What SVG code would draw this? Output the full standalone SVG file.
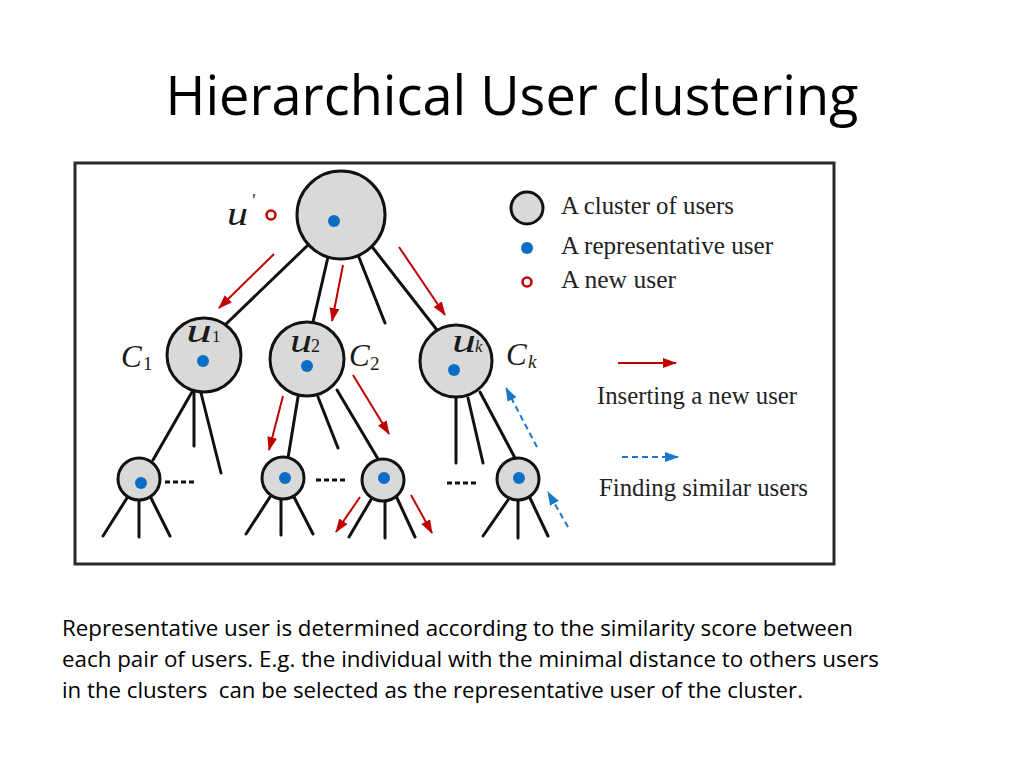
<svg xmlns="http://www.w3.org/2000/svg" width="1024" height="768" viewBox="0 0 1024 768">
<defs>
<marker id="ar" markerUnits="userSpaceOnUse" markerWidth="14" markerHeight="12" refX="13" refY="5" orient="auto"><path d="M0,0 L14,5 L0,10 Z" fill="#c00000"/></marker>
<marker id="ab" markerUnits="userSpaceOnUse" markerWidth="14" markerHeight="12" refX="13" refY="5" orient="auto"><path d="M0,0 L14,5 L0,10 Z" fill="#1a78c8"/></marker>
<style>
.e{stroke:#111;stroke-width:3;fill:none;stroke-linecap:round}
.dash{stroke:#111;stroke-width:3;stroke-dasharray:5 3}
.red{stroke:#c00000;stroke-width:2;fill:none;marker-end:url(#ar)}
.blue{stroke:#1a78c8;stroke-width:2;fill:none;stroke-dasharray:6 4;marker-end:url(#ab)}
.n{fill:#d9d9d9;stroke:#111;stroke-width:3}
.dot{fill:#0a6fc4}
.lbl{font-family:"Liberation Serif",serif;font-style:italic;fill:#1a1a1a}
.sub{font-family:"Liberation Serif",serif;fill:#1a1a1a}
.leg{font-family:"Liberation Serif",serif;font-size:25px;fill:#222}
.body{font-family:"Open Sans","Liberation Sans",sans-serif;font-size:22px;fill:#000}
</style>
</defs>
<rect width="1024" height="768" fill="#fff"/>
<text x="512" y="115" text-anchor="middle" font-family="'Open Sans','Liberation Sans',sans-serif" font-size="54" textLength="693" lengthAdjust="spacingAndGlyphs" fill="#000">Hierarchical User clustering</text>
<rect x="75" y="163" width="759" height="401" fill="#fff" stroke="#2a2a2a" stroke-width="3"/>
<g id="connectors">
<line class="e" x1="307" y1="246" x2="226" y2="324"/>
<line class="e" x1="328" y1="257" x2="313" y2="322"/>
<line class="e" x1="358" y1="255" x2="385" y2="323"/>
<line class="e" x1="373" y1="248" x2="437" y2="330"/>
<line class="e" x1="192" y1="392" x2="153" y2="460"/>
<line class="e" x1="194" y1="393" x2="194" y2="446"/>
<line class="e" x1="201" y1="393" x2="221" y2="473"/>
<line class="e" x1="127" y1="498" x2="103" y2="536"/>
<line class="e" x1="139" y1="500" x2="139" y2="537"/>
<line class="e" x1="151" y1="498" x2="170" y2="536"/>
<line class="e" x1="298" y1="397" x2="288" y2="458"/>
<line class="e" x1="318" y1="397" x2="338" y2="448"/>
<line class="e" x1="337" y1="390" x2="378" y2="459"/>
<line class="e" x1="270" y1="497" x2="246" y2="534"/>
<line class="e" x1="281" y1="500" x2="281" y2="535"/>
<line class="e" x1="294" y1="497" x2="313" y2="534"/>
<line class="e" x1="372" y1="498" x2="349" y2="537"/>
<line class="e" x1="385" y1="500" x2="385" y2="538"/>
<line class="e" x1="397" y1="498" x2="415" y2="537"/>
<line class="e" x1="456" y1="398" x2="456" y2="463"/>
<line class="e" x1="468" y1="398" x2="483" y2="463"/>
<line class="e" x1="480" y1="392" x2="515" y2="458"/>
<line class="e" x1="508" y1="500" x2="483" y2="536"/>
<line class="e" x1="518" y1="500" x2="518" y2="538"/>
<line class="e" x1="530" y1="498" x2="548" y2="536"/>
<line class="dash" x1="165" y1="482" x2="195" y2="482"/>
<line class="dash" x1="316" y1="480" x2="348" y2="480"/>
<line class="dash" x1="447" y1="483" x2="479" y2="483"/>
<line class="red" x1="274" y1="254" x2="219" y2="308"/>
<line class="red" x1="343" y1="265" x2="332" y2="321"/>
<line class="red" x1="399" y1="247" x2="445" y2="315"/>
<line class="red" x1="283" y1="396" x2="269" y2="450"/>
<line class="red" x1="353" y1="375" x2="389" y2="434"/>
<line class="red" x1="360" y1="497" x2="336" y2="532"/>
<line class="red" x1="411" y1="495" x2="432" y2="533"/>
<line class="blue" x1="537" y1="447" x2="506" y2="388"/>
<line class="blue" x1="568" y1="527" x2="548" y2="492"/>
</g>
<g id="root"><circle class="n" cx="341" cy="215" r="44"/><circle class="dot" cx="334" cy="221" r="6"/></g>
<g id="new-user"><text class="lbl" x="227" y="225" font-size="34" textLength="21" lengthAdjust="spacingAndGlyphs">u</text><text class="lbl" x="251" y="207" font-size="18">'</text><circle cx="271" cy="215" r="4.5" fill="none" stroke="#c00000" stroke-width="2.5"/></g>
<g id="c1"><circle class="n" cx="204" cy="355" r="37"/><circle class="dot" cx="203" cy="361" r="6"/><text class="lbl" x="186" y="342" font-size="33" textLength="26" lengthAdjust="spacingAndGlyphs">u</text><text class="sub" x="212" y="342" font-size="17">1</text><text class="lbl" x="121" y="367" font-size="31">C</text><text class="sub" x="143" y="370" font-size="19">1</text></g>
<g id="c2"><circle class="n" cx="307" cy="359" r="37"/><circle class="dot" cx="307" cy="366" r="6"/><text class="lbl" x="290" y="352" font-size="33" textLength="22" lengthAdjust="spacingAndGlyphs">u</text><text class="sub" x="311" y="352" font-size="18">2</text><text class="lbl" x="349" y="366" font-size="31">C</text><text class="sub" x="370" y="370" font-size="19">2</text></g>
<g id="ck"><circle class="n" cx="456" cy="361" r="36"/><circle class="dot" cx="454" cy="370" r="6"/><text class="lbl" x="452" y="352" font-size="33" textLength="24" lengthAdjust="spacingAndGlyphs">u</text><text class="lbl" x="475" y="352" font-size="17">k</text><text class="lbl" x="506" y="365" font-size="31">C</text><text class="lbl" x="528" y="368" font-size="19">k</text></g>
<g id="leaf-a"><circle class="n" cx="139" cy="479" r="21"/><circle class="dot" cx="141" cy="483" r="6"/></g>
<g id="leaf-b"><circle class="n" cx="283" cy="478" r="21"/><circle class="dot" cx="285" cy="478" r="6"/></g>
<g id="leaf-c"><circle class="n" cx="383" cy="480" r="21"/><circle class="dot" cx="384" cy="478" r="6"/></g>
<g id="leaf-d"><circle class="n" cx="518" cy="479" r="21"/><circle class="dot" cx="519" cy="478" r="6"/></g>
<g id="legend">
<circle class="n" cx="527" cy="208" r="16"/><text class="leg" x="561" y="214" textLength="173" lengthAdjust="spacingAndGlyphs">A cluster of users</text>
<circle class="dot" cx="527" cy="248" r="6"/><text class="leg" x="561" y="254" textLength="212" lengthAdjust="spacingAndGlyphs">A representative user</text>
<circle cx="527" cy="282" r="4.5" fill="none" stroke="#c00000" stroke-width="2.5"/><text class="leg" x="561" y="288" textLength="115" lengthAdjust="spacingAndGlyphs">A new user</text>
<line class="red" x1="618" y1="363" x2="676" y2="363"/>
<text class="leg" x="597" y="404" textLength="200" lengthAdjust="spacingAndGlyphs">Inserting a new user</text>
<line class="blue" x1="622" y1="457" x2="678" y2="457"/>
<text class="leg" x="599" y="496" textLength="209" lengthAdjust="spacingAndGlyphs">Finding similar users</text>
</g>
<text class="body" x="62" y="636" textLength="791" lengthAdjust="spacingAndGlyphs">Representative user is determined according to the similarity score between</text>
<text class="body" x="62" y="667" textLength="817" lengthAdjust="spacingAndGlyphs">each pair of users. E.g. the individual with the minimal distance to others users</text>
<text class="body" x="62" y="698" textLength="741" lengthAdjust="spacingAndGlyphs" xml:space="preserve">in the clusters  can be selected as the representative user of the cluster.</text>
</svg>
